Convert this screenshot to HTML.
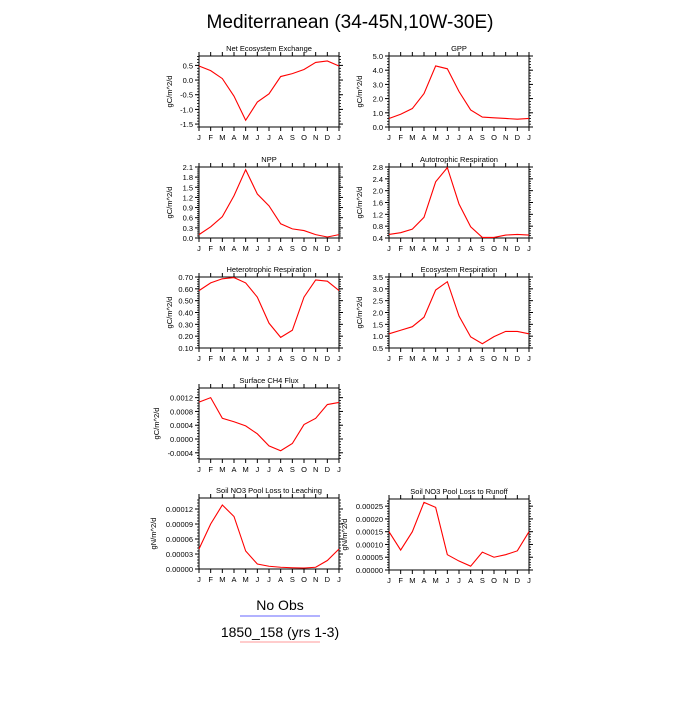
<!DOCTYPE html>
<html><head><meta charset="utf-8"><style>
body{margin:0;background:#fff;}
svg text{font-family:"Liberation Sans",sans-serif;fill:#000;}
</style></head><body>
<svg id="chart" width="700" height="700">
<text x="350" y="28" text-anchor="middle" font-size="19">Mediterranean (34-45N,10W-30E)</text>
<g id="panels"></g>
<g>
<text x="280" y="610" text-anchor="middle" font-size="14">No Obs</text>
<line x1="240" y1="616" x2="320" y2="616" stroke="#6666ff" stroke-width="1"/>
<text x="280" y="637" text-anchor="middle" font-size="14">1850_158 (yrs 1-3)</text>
<line x1="240" y1="642" x2="320" y2="642" stroke="#ff9999" stroke-width="1"/>
</g>
</svg>
<script>
const months = ["J","F","M","A","M","J","J","A","S","O","N","D","J"];
const titles = ["Net Ecosystem Exchange","GPP","NPP","Autotrophic Respiration","Heterotrophic Respiration","Ecosystem Respiration","Surface CH4 Flux","Soil NO3 Pool Loss to Leaching","Soil NO3 Pool Loss to Runoff"];
const units = ["gC/m^2/d","gC/m^2/d","gC/m^2/d","gC/m^2/d","gC/m^2/d","gC/m^2/d","gC/m^2/d","gN/m^2/d","gN/m^2/d"];
const neeValues = [0.48,0.32,0.05,-0.55,-1.37,-0.75,-0.47,0.12,0.22,0.36,0.6,0.65,0.48];
const gppValues = [0.6,0.9,1.3,2.35,4.3,4.1,2.5,1.2,0.7,0.65,0.6,0.55,0.6];
const nppValues = [0.1,0.33,0.63,1.25,2.02,1.3,0.95,0.42,0.27,0.22,0.1,0.03,0.1];
const arValues = [0.52,0.58,0.7,1.1,2.3,2.78,1.55,0.78,0.42,0.42,0.5,0.52,0.5];
const hrValues = [0.585,0.65,0.685,0.695,0.65,0.53,0.31,0.19,0.25,0.53,0.675,0.665,0.585];
const erValues = [1.1,1.25,1.4,1.8,2.95,3.3,1.85,0.97,0.68,0.98,1.2,1.2,1.1];
const ch4Values = [0.00107,0.0012,0.0006,0.0005,0.00038,0.00015,-0.0002,-0.00034,-0.00013,0.00042,0.0006,0.001,0.00106];
const leachValues = [0.00004,0.00009,0.000128,0.000105,0.000036,0.00001,0.0000055,0.0000035,0.0000025,0.000002,0.0000035,0.000017,0.00004];
const runoffValues = [0.00015,0.000078,0.00015,0.000265,0.000245,0.00006,0.000035,0.000015,0.00007,0.00005,0.00006,0.000075,0.00015];
const neeTicks = ["0.5","0.0","-0.5","-1.0","-1.5"];
const gppTicks = ["0.0","1.0","2.0","3.0","4.0","5.0"];
const nppTicks = ["0.0","0.3","0.6","0.9","1.2","1.5","1.8","2.1"];
const arTicks = ["0.4","0.8","1.2","1.6","2.0","2.4","2.8"];
const hrTicks = ["0.10","0.20","0.30","0.40","0.50","0.60","0.70"];
const erTicks = ["0.5","1.0","1.5","2.0","2.5","3.0","3.5"];
const ch4Ticks = ["-0.0004","0.0000","0.0004","0.0008","0.0012"];
const leachTicks = ["0.00000","0.00003","0.00006","0.00009","0.00012"];
const runoffTicks = ["0.00000","0.00005","0.00010","0.00015","0.00020","0.00025"];
const series = [neeValues,gppValues,nppValues,arValues,hrValues,erValues,ch4Values,leachValues,runoffValues];
const tickSets = [neeTicks,gppTicks,nppTicks,arTicks,hrTicks,erTicks,ch4Ticks,leachTicks,runoffTicks];
const yMin = [-1.6,0,0,0.4,0.1,0.5,-0.00058,0,0];
const yMax = [0.82,5,2.1,2.8,0.7,3.5,0.00148,0.000142,0.000278];
const NS="http://www.w3.org/2000/svg";
const root=document.getElementById('panels');
function mk(tag,attrs,parent){const e=document.createElementNS(NS,tag);for(const k in attrs)e.setAttribute(k,attrs[k]);parent.appendChild(e);return e;}
const pos=[[199,56],[389,56],[199,167],[389,167],[199,277],[389,277],[199,388],[199,498],[389,499]];
const labXs=[172,362,172,362,172,362,159,156,347];
const W=140,H=71;
series.forEach((vals,i)=>{
  const [x0,y0]=pos[i];
  const g=mk('g',{},root);
  
  
  const xs=k=>x0+k*W/12;
  const ys=v=>y0+H-(v-yMin[i])/(yMax[i]-yMin[i])*H;
  const t=mk('text',{x:x0+W/2,y:y0-5,'text-anchor':'middle','font-size':7.5},g);t.textContent=titles[i];
  
  
  const r=mk('rect',{x:x0,y:y0,width:W,height:H,fill:'none',stroke:'#000','stroke-width':1},g);
  
  
  months.forEach((m,k)=>{
    const x=xs(k);
    mk('line',{x1:x,y1:y0+H,x2:x,y2:y0+H+4,stroke:'#000','stroke-width':1},g);
    mk('line',{x1:x,y1:y0,x2:x,y2:y0-4,stroke:'#000','stroke-width':1},g);
    const l=mk('text',{x:x,y:y0+H+13,'text-anchor':'middle','font-size':7.5},g);l.textContent=m;
    
    
  });
  const ticks=tickSets[i].map(Number);
  const step=Math.abs(ticks[1]-ticks[0]);
  ticks.forEach((v,k)=>{
    const y=ys(v);
    mk('line',{x1:x0,y1:y,x2:x0-4,y2:y,stroke:'#000','stroke-width':1},g);
    mk('line',{x1:x0+W,y1:y,x2:x0+W+4,y2:y,stroke:'#000','stroke-width':1},g);
    const l=mk('text',{x:x0-6,y:y+3,'text-anchor':'end','font-size':7.5},g);l.textContent=tickSets[i][k];
    
    
  });
  const lo=Math.min(...ticks)-step*3, hi=Math.max(...ticks)+step*3;
  for(let v=lo; v<=hi+1e-12; v+=step/5){
    if(v<yMin[i]-1e-12||v>yMax[i]+1e-12)continue;
    const y=ys(v);
    mk('line',{x1:x0,y1:y,x2:x0-2,y2:y,stroke:'#000','stroke-width':0.8},g);
    mk('line',{x1:x0+W,y1:y,x2:x0+W+2,y2:y,stroke:'#000','stroke-width':0.8},g);
  }
  const labX = labXs[i];
  const ly=y0+H/2;
  const yl=mk('text',{x:labX,y:ly,'text-anchor':'middle','font-size':7.5,transform:`rotate(-90 ${labX} ${ly})`},g);yl.textContent=units[i];
  
  
  const p=mk('polyline',{points:vals.map((v,k)=>xs(k)+','+ys(v)).join(' '),fill:'none',stroke:'#ff0000','stroke-width':1.1},g);
  
  
});
</script>
</body></html>
